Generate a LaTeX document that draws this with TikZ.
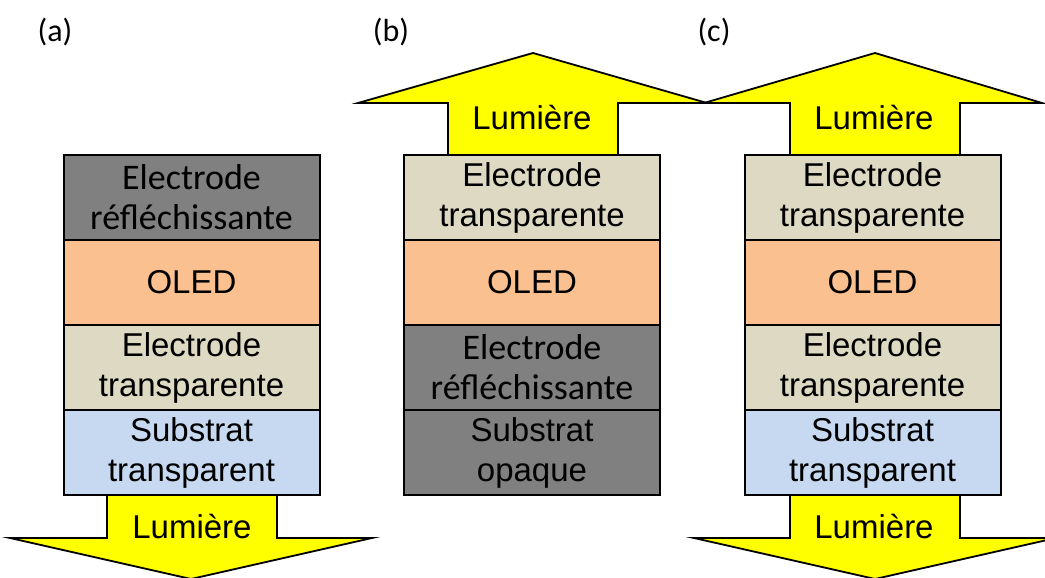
\documentclass[tikz,border=0pt]{standalone}
\usepackage{fontspec}
\setmainfont{Liberation Sans}
\newfontfamily\calib{Carlito}
\definecolor{darkg}{HTML}{808080}
\definecolor{oled}{HTML}{FAC090}
\definecolor{beige}{HTML}{DDD9C3}
\definecolor{lblue}{HTML}{C6D9F1}
\definecolor{lyellow}{HTML}{FFFF00}
\tikzset{
  layer/.style={draw=black, line width=2pt, minimum width=256pt, minimum height=85pt, inner sep=0pt, align=center,
     font=\fontsize{33}{40}\selectfont},
  refl/.style={layer, fill=darkg, font=\calib\fontsize{36}{40}\selectfont},
  oledl/.style={layer, fill=oled},
  transl/.style={layer, fill=beige},
  substl/.style={layer, fill=lblue},
  opaql/.style={layer, fill=darkg},
  lightarrow/.style={draw=black, line width=1.8pt, fill=lyellow, line join=miter},
  lumlabel/.style={inner sep=0pt, font=\fontsize{33}{40}\selectfont},
  panel/.style={inner sep=0pt, font=\calib\fontsize{32}{38}\selectfont}
}
\begin{document}
\begin{tikzpicture}[x=1pt,y=-1pt]
\useasboundingbox (0,0) rectangle (1045,578);
\clip (0,0) rectangle (1045,578);
% panel labels
\node[panel] (la) at (55,32) {(a)};
\node[panel] (lb) at (391,32) {(b)};
\node[panel] (lc) at (714,32) {(c)};
% arrows
% (a) downward
\draw[lightarrow] (107,490) -- (107,538) -- (10,538) -- (191,579) -- (372,538) -- (277,538) -- (277,490);
% (b) upward
\draw[lightarrow] (448,160) -- (448,103) -- (358,103) -- (533,53) -- (707,103) -- (618,103) -- (618,160);
% (c) upward
\draw[lightarrow] (790,160) -- (790,103) -- (704,103) -- (875,53) -- (1042,103) -- (960,103) -- (960,160);
% (c) downward
\draw[lightarrow] (790,490) -- (790,538) -- (694,538) -- (875,579) -- (1056,538) -- (960,538) -- (960,490);
\node[lumlabel] (luma) at (192,527) {Lumière};
\node[lumlabel] (lumb) at (532,118) {Lumière};
\node[lumlabel] (lumc) at (874,118) {Lumière};
\node[lumlabel] (lumd) at (874,527) {Lumière};
% column (a)
\node[refl]   (a1) at (191.5,197.5) {Electrode\\réfléchissante};
\node[oledl]  (a2) at (191.5,282.5) {OLED};
\node[transl] (a3) at (191.5,367.5) {Electrode\\transparente};
\node[substl] (a4) at (191.5,452.5) {Substrat\\transparent};
% column (b)
\node[transl] (b1) at (532,197.5) {Electrode\\transparente};
\node[oledl]  (b2) at (532,282.5) {OLED};
\node[refl]   (b3) at (532,367.5) {Electrode\\réfléchissante};
\node[opaql]  (b4) at (532,452.5) {Substrat\\opaque};
% column (c)
\node[transl] (c1) at (872.5,197.5) {Electrode\\transparente};
\node[oledl]  (c2) at (872.5,282.5) {OLED};
\node[transl] (c3) at (872.5,367.5) {Electrode\\transparente};
\node[substl] (c4) at (872.5,452.5) {Substrat\\transparent};
\end{tikzpicture}
\end{document}
